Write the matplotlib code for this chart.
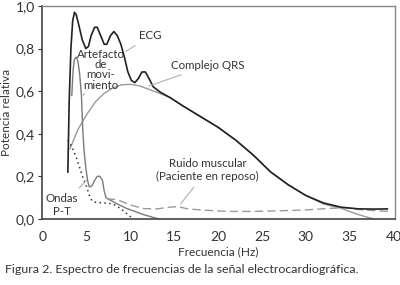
import matplotlib
matplotlib.use("Agg")
import matplotlib.pyplot as plt
from matplotlib.ticker import FuncFormatter

# ECG total (black)
ecg_x = [2.85, 3.0, 3.2, 3.4, 3.6, 3.8, 4.1, 4.5, 4.9, 5.2, 5.5, 5.9, 6.2, 6.6, 7.0, 7.3,
         7.7, 8.1, 8.5, 8.9, 9.3, 9.7, 10.1, 10.5, 10.9, 11.3, 11.7, 12.1, 12.6, 13.4,
         14.5, 16, 18, 20, 22, 24, 26, 28, 30, 32, 34, 36, 38, 39.3]
ecg_y = [0.22, 0.55, 0.80, 0.93, 0.97, 0.96, 0.91, 0.84, 0.80, 0.81, 0.86, 0.90, 0.90, 0.86, 0.82, 0.82,
         0.86, 0.88, 0.86, 0.82, 0.76, 0.69, 0.65, 0.64, 0.66, 0.69, 0.69, 0.66, 0.62, 0.595,
         0.57, 0.53, 0.48, 0.43, 0.37, 0.30, 0.22, 0.16, 0.11, 0.075, 0.055, 0.047, 0.046, 0.047]

# complejo QRS (gray)
qrs_x = [3.1, 3.5, 4, 5, 6, 7, 8, 9, 10, 11, 12, 13, 14.5, 16, 18, 20, 22, 24, 26, 28, 30, 32, 34, 36, 37.7]
qrs_y = [0.33, 0.37, 0.42, 0.49, 0.55, 0.59, 0.615, 0.63, 0.632, 0.625, 0.61, 0.595, 0.57, 0.53, 0.48,
         0.43, 0.37, 0.30, 0.22, 0.16, 0.11, 0.07, 0.05, 0.02, 0.0]

# artefacto de movimiento
art_x = [3.3, 3.45, 3.6, 3.8, 4.0, 4.2, 4.4, 4.55, 4.7, 4.9, 5.1, 5.3, 5.6, 5.9, 6.2, 6.5, 6.8, 7.0,
         7.2, 7.6, 8.5, 9.5, 10.5, 11.5, 12.5, 13.2]
art_y = [0.58, 0.70, 0.75, 0.76, 0.74, 0.68, 0.58, 0.42, 0.32, 0.24, 0.18, 0.15, 0.155, 0.18, 0.20, 0.20,
         0.18, 0.13, 0.10, 0.09, 0.07, 0.05, 0.035, 0.02, 0.008, 0.0]

# ondas P-T (dotted)
pt_x = [2.85, 3.3, 3.8, 4.2, 4.6, 5.0, 5.3, 5.6, 6.0, 7.0, 8.0, 9.0, 9.7, 10.3]
pt_y = [0.37, 0.34, 0.29, 0.24, 0.19, 0.15, 0.11, 0.085, 0.078, 0.075, 0.07, 0.045, 0.02, 0.0]

# ruido muscular (dashed)
rm_x = [7.3, 8.5, 10, 11.5, 13, 14.5, 15.4, 16.5, 18, 21, 24, 27, 30, 33, 34.5, 36.5, 39.5]
rm_y = [0.095, 0.09, 0.065, 0.048, 0.047, 0.055, 0.058, 0.047, 0.042, 0.035, 0.035, 0.038, 0.042,
        0.05, 0.052, 0.042, 0.035]

plt.rcParams['font.family'] = ['Lato', 'DejaVu Sans']

fig = plt.figure(figsize=(4, 2.85), dpi=100)
ax = fig.add_axes([0.105, 0.232, 0.883, 0.747])

gray = "#9a9a9a"
ax.plot(qrs_x, qrs_y, color=gray, lw=1.0)
ax.plot(art_x, art_y, color="#7a7a7a", lw=1.0)
ax.plot(rm_x, rm_y, color=gray, lw=1.0, dashes=(6, 3))
ax.plot(pt_x, pt_y, color="#333333", lw=1.1, dashes=(1, 2.2))
ax.plot(ecg_x, ecg_y, color="#222222", lw=1.2)

ax.set_xlim(-0.1, 40.2)
ax.set_ylim(0, 1.0)
ax.set_xticks(range(0, 41, 5))
ax.set_yticks([0, 0.2, 0.4, 0.6, 0.8, 1.0])
ax.yaxis.set_major_formatter(FuncFormatter(lambda v, p: f"{v:.1f}".replace(".", ",")))
ax.tick_params(axis="x", length=0, pad=9, labelsize=10, colors="#333333")
ax.tick_params(axis="y", length=3, width=0.8, pad=2, labelsize=10, colors="#333333")

for s in ["left", "bottom"]:
    ax.spines[s].set_color("#444444")
    ax.spines[s].set_linewidth(1.2)
for s in ["top", "right"]:
    ax.spines[s].set_color("#888888")
    ax.spines[s].set_linewidth(1.0)

ax.set_xlabel("Frecuencia (Hz)", fontsize=8.5, color="#333333", labelpad=2)
ax.set_ylabel("Potencia relativa", fontsize=8.5, color="#333333", labelpad=3)

# annotations
lead = dict(arrowstyle="-", color="#b0b0b0", lw=0.8)
txt = dict(fontsize=8.3, color="#333333")
ax.annotate("ECG", xy=(9.2, 0.78), xytext=(12.3, 0.86), ha="center", va="center",
            arrowprops=lead, **txt)
ax.annotate("Artefacto\nde\nmovi-\nmiento", xy=(4.6, 0.58), xytext=(6.6, 0.70), ha="center", va="center",
            linespacing=0.92, arrowprops=lead, **txt)
ax.annotate("Complejo QRS", xy=(11.8, 0.62), xytext=(18.8, 0.72), ha="center", va="center",
            arrowprops=lead, **txt)
ax.annotate("Ruido muscular\n(Paciente en reposo)", xy=(15.5, 0.06), xytext=(18.8, 0.23),
            ha="center", va="center", linespacing=1.3, arrowprops=lead, **txt)
ax.annotate("Ondas\nP-T", xy=(5.2, 0.19), xytext=(2.2, 0.065), ha="center", va="center",
            linespacing=1.3, arrowprops=lead, **txt)

fig.text(0.0125, 0.053, "Figura 2. Espectro de frecuencias de la señal electrocardiográfica.",
         fontsize=8.9, color="#333333", ha="left", va="center")

plt.savefig("out.png", dpi=100)
